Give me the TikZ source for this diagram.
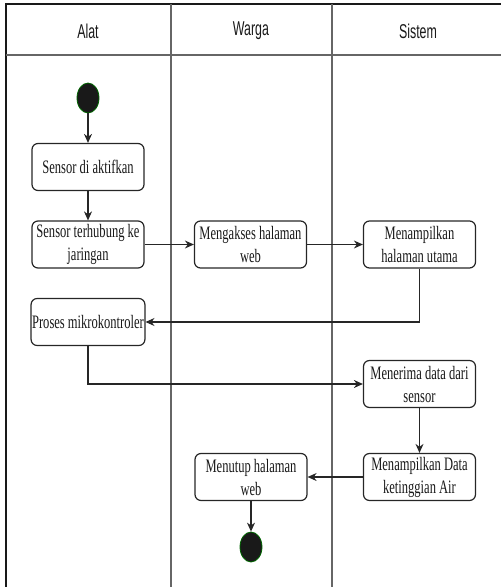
\documentclass[tikz,border=0pt]{standalone}
\usepackage{fontspec}
\setmainfont{Liberation Serif}[FakeStretch=0.66]
\newfontfamily\hdrfont{Liberation Sans}[FakeStretch=0.62]
\usetikzlibrary{arrows.meta,shapes.geometric}
\begin{document}
\begin{tikzpicture}[x=1pt,y=-1pt,
 act/.style={draw=black!85, line width=1.2pt, rounded corners=6pt, minimum width=112pt, minimum height=47pt, align=center, inner sep=1pt, font=\fontsize{19}{23}\selectfont, text=black!90},
 flow/.style={draw=black!85, line width=1.1pt, -{Stealth[length=9pt,width=8pt]}},
 dot/.style={ellipse, fill=black!90, draw=green!40!black, line width=0.8pt, minimum width=22pt, minimum height=30pt, inner sep=0pt},
 lane/.style={draw=black!60, line width=1.2pt},
 hdr/.style={font=\hdrfont\fontsize{20}{22}\selectfont, text=black!90}]
\useasboundingbox (0,0) rectangle (501,587);
\begin{scope}
\clip (0,0) rectangle (501,587);
% swimlane frame
\draw[draw=black!90, line width=1.3pt] (6,600) -- (6,4) -- (505,4);
\draw[lane] (6,55) -- (505,55);
\draw[lane] (171,4) -- (171,600);
\draw[lane] (332,4) -- (332,600);
\end{scope}
\node[hdr] (hA) at (88,31) {Alat};
\node[hdr] (hW) at (251,31) {Warga};
\node[hdr] (hS) at (418,31) {Sistem};
% nodes
\node[dot] (start) at (88,98) {};
\node[act] (s1) at (88,167) {Sensor di aktifkan};
\node[act] (s2) at (88,244.5) {Sensor terhubung ke\\jaringan};
\node[act] (w1) at (250.5,244.5) {Mengakses halaman\\web};
\node[act] (y1) at (419.5,244.5) {Menampilkan\\halaman utama};
\node[act] (s3) at (88,322) {Proses mikrokontroler};
\node[act] (y2) at (419.5,384) {Menerima data dari\\sensor};
\node[act] (y3) at (419.5,477) {Menampilkan Data\\ketinggian Air};
\node[act] (w2) at (251,477) {Menutup halaman\\web};
\node[dot] (end) at (251,547) {};
% connectors
\draw[flow] (start) -- (s1);
\draw[flow] (s1) -- (s2);
\draw[flow] (s2) -- (w1);
\draw[flow] (w1) -- (y1);
\draw[flow] (y1.south) |- (s3.east);
\draw[flow] (s3.south) |- (y2.west);
\draw[flow] (y2) -- (y3);
\draw[flow] (y3) -- (w2);
\draw[flow] (w2) -- (end);
\end{tikzpicture}
\end{document}
